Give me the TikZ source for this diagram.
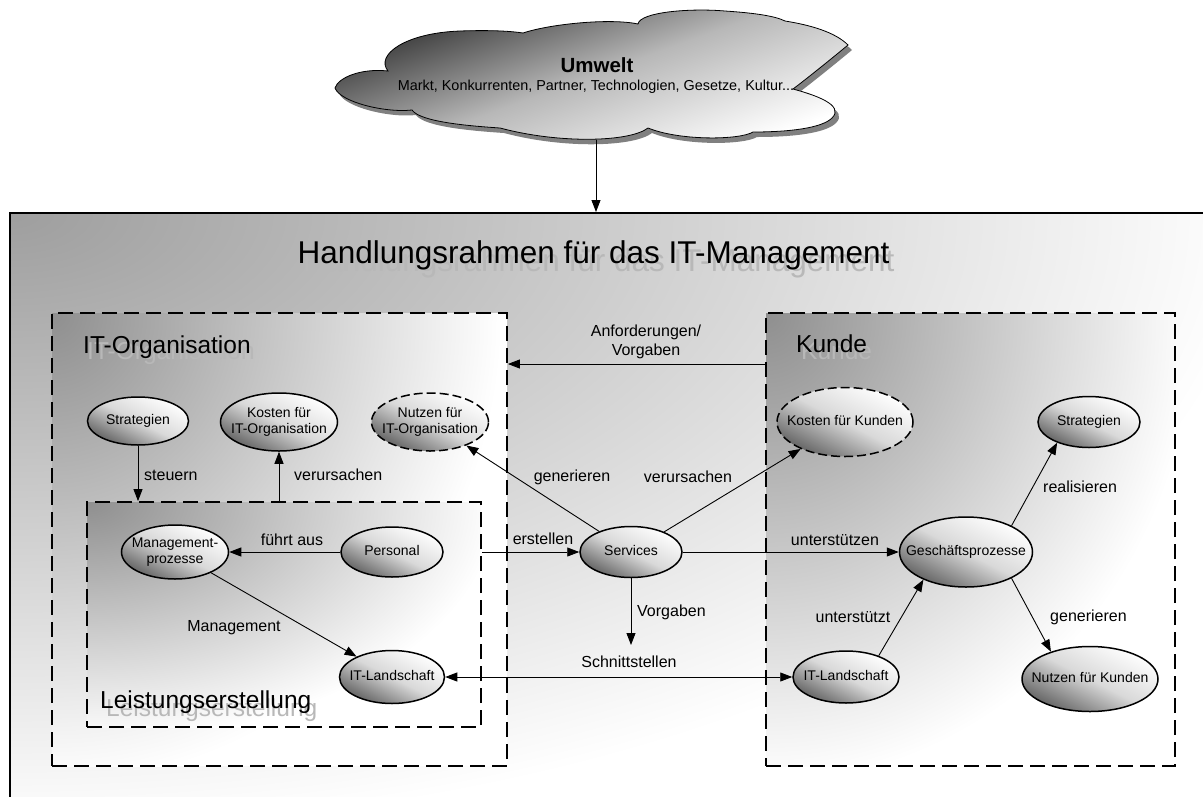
\documentclass[tikz,border=0pt]{standalone}
\usepackage{fontspec}
\setmainfont{Liberation Sans}
\usetikzlibrary{arrows.meta,shapes.geometric}
\pgfdeclareradialshading{cfFrame}{\pgfpoint{0bp}{0bp}}{color(0bp)=(black!38); color(25bp)=(white); color(50bp)=(white)}
\pgfdeclareradialshading{cfBox}{\pgfpoint{0bp}{0bp}}{color(0bp)=(black!44); color(25bp)=(white); color(50bp)=(white)}
\newcommand\fnNode{\fontsize{14}{16}\selectfont}
\newcommand\fnLbl{\fontsize{16}{19}\selectfont}
\newcommand\fnBox{\fontsize{24.5}{29}\selectfont}
\newcommand\fnTitle{\fontsize{31.5}{37}\selectfont}
\newcommand\zt[1]{\makebox[0pt]{\begin{tabular}{@{}c@{}}#1\end{tabular}}}
\begin{document}
\begin{tikzpicture}[x=1pt,y=-1pt,
  ell/.style={ellipse, draw=black, line width=1.5pt, inner sep=0pt, top color=white, bottom color=black!62, middle color=black!15, shading angle=-27, font=\fnNode},
  dell/.style={ell, dash pattern=on 9pt off 4pt},
  conn/.style={line width=0.9pt, -{Triangle[length=12pt,width=9pt]}},
  conntwo/.style={line width=0.9pt, {Triangle[length=12pt,width=9pt]}-{Triangle[length=12pt,width=9pt]}},
  lbl/.style={font=\fnLbl, inner sep=0pt},
  dbox/.style={draw=black, line width=1.8pt, dash pattern=on 15pt off 7pt, inner sep=0pt},
  boxlbl/.style={font=\fnBox, inner sep=0pt, anchor=base west},
  shadowtxt/.style={text=black!28}]
\useasboundingbox (0,0) rectangle (1203,796);
\clip (0,0) rectangle (1203,796);
\fill[white] (0,0) rectangle (1203,796);

% cloud shadow
\begin{scope}[shift={(4,5)}]
\fill[black!50] (335,88) .. controls (338,78) and (360,68) .. (388,71)
  .. controls (375,55) and (405,33) .. (460,31) .. controls (490,30) and (510,31) .. (523,33)
  .. controls (550,24) and (610,18) .. (638,24)
  .. controls (640,12) and (690,8) .. (725,11) .. controls (755,13) and (775,16) .. (785,21)
  .. controls (810,25) and (835,32) .. (848,45)
  .. controls (830,60) and (805,80) .. (793,89)
  .. controls (815,95) and (845,105) .. (832,118) .. controls (822,128) and (790,132) .. (753,132)
  .. controls (740,140) and (680,141) .. (648,128)
  .. controls (630,142) and (560,144) .. (500,128)
  .. controls (470,126) and (420,122) .. (412,110)
  .. controls (385,113) and (340,102) .. (335,88) -- cycle;
\end{scope}
% cloud
\path[draw=black, line width=0.8pt, top color=white, bottom color=black!82, middle color=black!28, shading angle=200]
  (335,88) .. controls (338,78) and (360,68) .. (388,71)
  .. controls (375,55) and (405,33) .. (460,31) .. controls (490,30) and (510,31) .. (523,33)
  .. controls (550,24) and (610,18) .. (638,24)
  .. controls (640,12) and (690,8) .. (725,11) .. controls (755,13) and (775,16) .. (785,21)
  .. controls (810,25) and (835,32) .. (848,45)
  .. controls (830,60) and (805,80) .. (793,89)
  .. controls (815,95) and (845,105) .. (832,118) .. controls (822,128) and (790,132) .. (753,132)
  .. controls (740,140) and (680,141) .. (648,128)
  .. controls (630,142) and (560,144) .. (500,128)
  .. controls (470,126) and (420,122) .. (412,110)
  .. controls (385,113) and (340,102) .. (335,88) -- cycle;
\node[font=\fontsize{20.5}{24}\selectfont\bfseries, inner sep=0pt] (umwelt) at (597,65) {Umwelt};
\node[font=\fontsize{14.4}{17}\selectfont, inner sep=0pt] (umweltsub) at (596,87) {Markt, Konkurrenten, Partner, Technologien, Gesetze, Kultur...};
\coordinate (cloudbot) at (596,140);

% outer frame
\begin{scope}
\clip (10,213) rectangle (1240,830);
\shade[shading=cfFrame] (10,213) ellipse [x radius=1250pt, y radius=620pt];
\end{scope}
\node[draw=black, line width=2pt, inner sep=0pt, minimum width=1230pt, minimum height=617pt] (frame) at (625,521.5) {};

% inner box shadings
\begin{scope}
\clip (52,313) rectangle (507,766);
\fill[white] (52,313) rectangle (507,766);
\shade[shading=cfBox] (52,313) ellipse [x radius=450pt, y radius=470pt];
\end{scope}
\begin{scope}
\clip (766,313) rectangle (1175,766);
\fill[white] (766,313) rectangle (1175,766);
\shade[shading=cfBox] (766,313) ellipse [x radius=430pt, y radius=470pt];
\end{scope}
\begin{scope}
\clip (87,502) rectangle (481,727);
\fill[white] (87,502) rectangle (481,727);
\shade[shading=cfBox] (87,502) ellipse [x radius=410pt, y radius=240pt];
\end{scope}
\node[dbox, minimum width=455pt, minimum height=453pt] (itorg) at (279.5,539.5) {};
\node[dbox, minimum width=409pt, minimum height=453pt] (kunde) at (970.5,539.5) {};
\node[dbox, minimum width=394pt, minimum height=225pt] (leist) at (284,614.5) {};

% titles with shadows
\node[font=\fnTitle, inner sep=0pt, anchor=base, shadowtxt] (titles) at (598.5,271) {Handlungsrahmen für das IT-Management};
\node[font=\fnTitle, inner sep=0pt, anchor=base] (title) at (593.5,263) {Handlungsrahmen für das IT-Management};
\node[boxlbl, shadowtxt] (litorgs) at (87,359) {IT-Organisation};
\node[boxlbl] (litorg) at (83,353) {IT-Organisation};
\node[boxlbl, shadowtxt] (lkundes) at (801,359) {Kunde};
\node[boxlbl] (lkunde) at (796,352) {Kunde};
\node[boxlbl, shadowtxt] (lleists) at (106,716) {Leistungserstellung};
\node[boxlbl] (lleist) at (100,708) {Leistungserstellung};

% ellipses
\node[ell, minimum width=101pt, minimum height=48pt] (strat1) at (138,421) {\zt{Strategien}};
\node[ell, minimum width=117pt, minimum height=58pt] (kio) at (279,422) {\zt{Kosten für\\IT-Organisation}};
\node[dell, minimum width=117pt, minimum height=58pt] (nio) at (430,422) {\zt{Nutzen für\\IT-Organisation}};
\node[dell, minimum width=136pt, minimum height=69pt] (kk) at (845,422) {\zt{Kosten für Kunden}};
\node[ell, minimum width=102pt, minimum height=51pt] (strat2) at (1089,422) {\zt{Strategien}};
\node[ell, minimum width=107pt, minimum height=54pt] (mgmt) at (175,552) {\zt{Management-\\prozesse}};
\node[ell, minimum width=102pt, minimum height=50pt] (personal) at (392,552) {\zt{Personal}};
\node[ell, minimum width=105pt, minimum height=53pt] (itl) at (392,677) {\zt{IT-Landschaft}};
\node[ell, minimum width=102pt, minimum height=51pt] (services) at (631,552) {\zt{Services}};
\node[ell, minimum width=133pt, minimum height=70pt] (gp) at (966,552) {\zt{Geschäftsprozesse}};
\node[ell, minimum width=106pt, minimum height=52pt] (itr) at (846,677) {\zt{IT-Landschaft}};
\node[ell, minimum width=136pt, minimum height=65pt] (nk) at (1090,679) {\zt{Nutzen für Kunden}};

% helper coordinates
\coordinate (anfy) at (0,364);
\coordinate (vtip) at (631,645);

% connectors
\draw[conn] (cloudbot) -- (cloudbot |- frame.north);
\draw[conn] (kunde.west |- anfy) -- (itorg.east |- anfy);
\draw[conn] (strat1.south) -- (strat1.south |- leist.north);
\draw[conn] (kio.south |- leist.north) -- (kio.south);
\draw[conn] (personal.west) -- (mgmt.east);
\draw[conn] (mgmt) -- (itl);
\draw[conn] (leist.east |- services) -- (services.west);
\draw[conn] (services) -- (nio);
\draw[conn] (services) -- (kk);
\draw[conn] (services.south) -- (vtip);
\draw[conntwo] (itl.east) -- (itr.west);
\draw[conn] (services.east) -- (gp.west);
\draw[conn] (itr.33) -- (gp.213);
\draw[conn] (gp.30) -- (strat2.213);
\draw[conn] (gp.-30) -- (nk.145);

% edge labels
\node[lbl] (lanf) at (646,342) {\begin{tabular}{@{}c@{}}Anforderungen/\\Vorgaben\end{tabular}};
\node[lbl, anchor=west] (lsteuern) at (144,475) {steuern};
\node[lbl, anchor=west] (lverur1) at (294,475) {verursachen};
\node[lbl] (lgen1) at (572,477) {generieren};
\node[lbl] (lverur2) at (688,477) {verursachen};
\node[lbl] (lfuehrt) at (292,540) {führt aus};
\node[lbl] (lerst) at (543,539) {erstellen};
\node[lbl] (lunterst) at (835,540) {unterstützen};
\node[lbl] (lmgmt) at (234,628) {Management};
\node[lbl, anchor=west] (lvorg) at (637,612) {Vorgaben};
\node[lbl] (lschn) at (629,662) {Schnittstellen};
\node[lbl] (lunt2) at (853,617) {unterstützt};
\node[lbl, anchor=west] (lreal) at (1043,487) {realisieren};
\node[lbl, anchor=west] (lgen2) at (1050,617) {generieren};
\end{tikzpicture}
\end{document}
